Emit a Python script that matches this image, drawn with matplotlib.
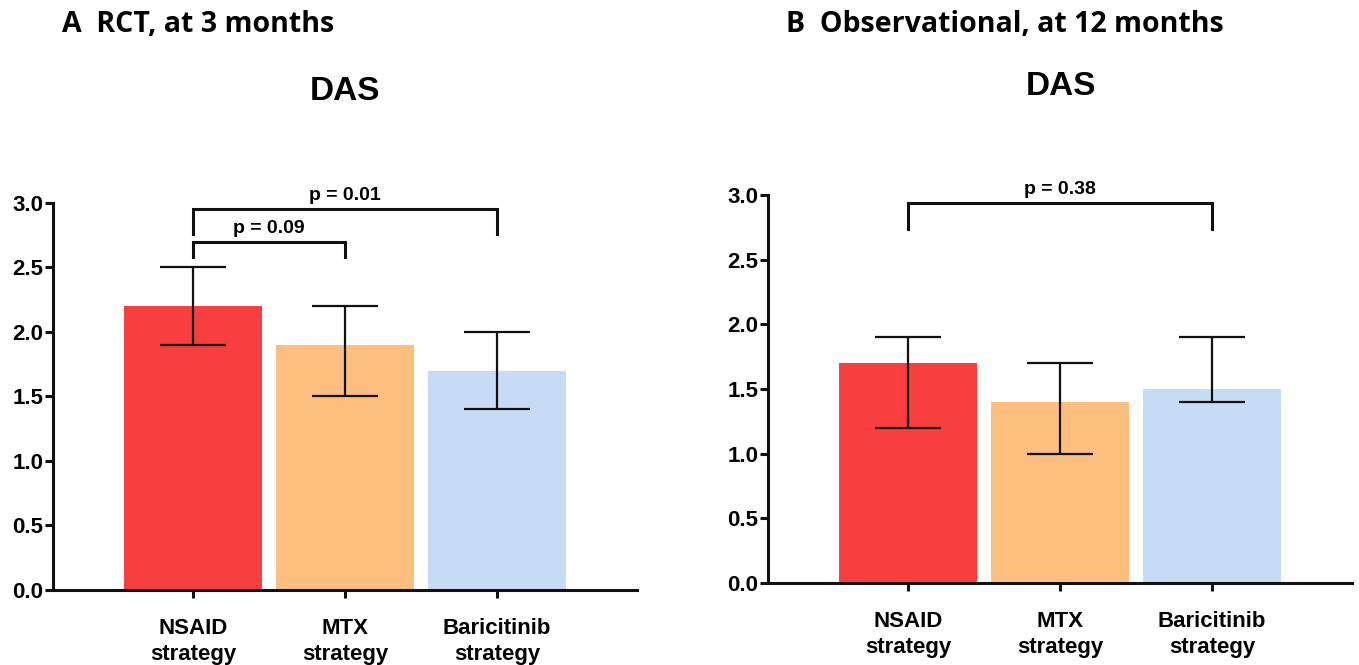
import matplotlib
matplotlib.use("Agg")
import matplotlib.pyplot as plt

plt.rcParams['font.family'] = ['Liberation Sans', 'DejaVu Sans']
plt.rcParams['font.weight'] = 'bold'

categories = ["NSAID\nstrategy", "MTX\nstrategy", "Baricitinib\nstrategy"]
colors = ["#F73F3F", "#FDBF80", "#C6DCF5"]

# panel A: RCT, 3 months
a_mean = [2.2, 1.9, 1.7]
a_low = [1.9, 1.5, 1.4]
a_high = [2.5, 2.2, 2.0]
# panel B: observational, 12 months
b_mean = [1.7, 1.4, 1.5]
b_low = [1.2, 1.0, 1.4]
b_high = [1.9, 1.7, 1.9]

# brackets: (left bar, right bar, line y, leg bottom y, label)
a_brackets = [(0, 1, 2.70, 2.58, "p = 0.09"), (0, 2, 2.95, 2.76, "p = 0.01")]
b_brackets = [(0, 2, 2.94, 2.74, "p = 0.38")]


def panel(ax, mean, low, high, brackets):
    x = range(len(mean))
    err = [[m - l for m, l in zip(mean, low)], [h - m for m, h in zip(mean, high)]]
    ax.bar(x, mean, width=0.91, color=colors, zorder=1)
    ax.errorbar(x, mean, yerr=err, fmt='none', ecolor='#111111',
                elinewidth=1.6, capsize=24, capthick=1.6, zorder=3)
    ax.set_xlim(-0.92, 2.92)
    ax.set_ylim(0, 3.0)
    ax.set_yticks([0, 0.5, 1.0, 1.5, 2.0, 2.5, 3.0])
    ax.set_yticklabels(["%.1f" % v for v in ax.get_yticks()])
    ax.set_xticks(list(x))
    ax.set_xticklabels(categories, linespacing=1.3)
    ax.spines[['top', 'right']].set_visible(False)
    for s in ['left', 'bottom']:
        ax.spines[s].set_linewidth(2.2)
        ax.spines[s].set_color('#111111')
    ax.tick_params(axis='both', width=2.2, length=6, labelsize=16, color='#111111')
    ax.tick_params(axis='x', pad=14)
    ax.tick_params(axis='y', pad=1)
    for l, r, y, yb, lab in brackets:
        ax.plot([l, l, r, r], [yb, y, y, yb], color='#111111', lw=2.2,
                clip_on=False, solid_joinstyle='miter')
        ax.text((l + r) / 2, y + 0.04, lab, ha='center', va='bottom',
                fontsize=14, fontweight='bold', clip_on=False)


fig = plt.figure(figsize=(13.59, 6.65), dpi=100)
ax1 = fig.add_axes([0.039, 0.1128, 0.4297, 0.582])
ax2 = fig.add_axes([0.5651, 0.1233, 0.4297, 0.5835])
panel(ax1, a_mean, a_low, a_high, a_brackets)
panel(ax2, b_mean, b_low, b_high, b_brackets)

fig.text(62 / 1359, 1 - 32 / 665, "A  RCT, at 3 months", fontsize=20.5,
         fontweight='bold', family=['Open Sans', 'DejaVu Sans'], va='baseline')
fig.text(786 / 1359, 1 - 32 / 665, "B  Observational, at 12 months", fontsize=20.5,
         fontweight='bold', family=['Open Sans', 'DejaVu Sans'], va='baseline')
fig.text(345 / 1359, 1 - 100 / 665, "DAS", fontsize=24, fontweight='bold',
         ha='center', va='baseline')
fig.text(1061 / 1359, 1 - 95 / 665, "DAS", fontsize=24, fontweight='bold',
         ha='center', va='baseline')

fig.savefig("out.png", dpi=100)
